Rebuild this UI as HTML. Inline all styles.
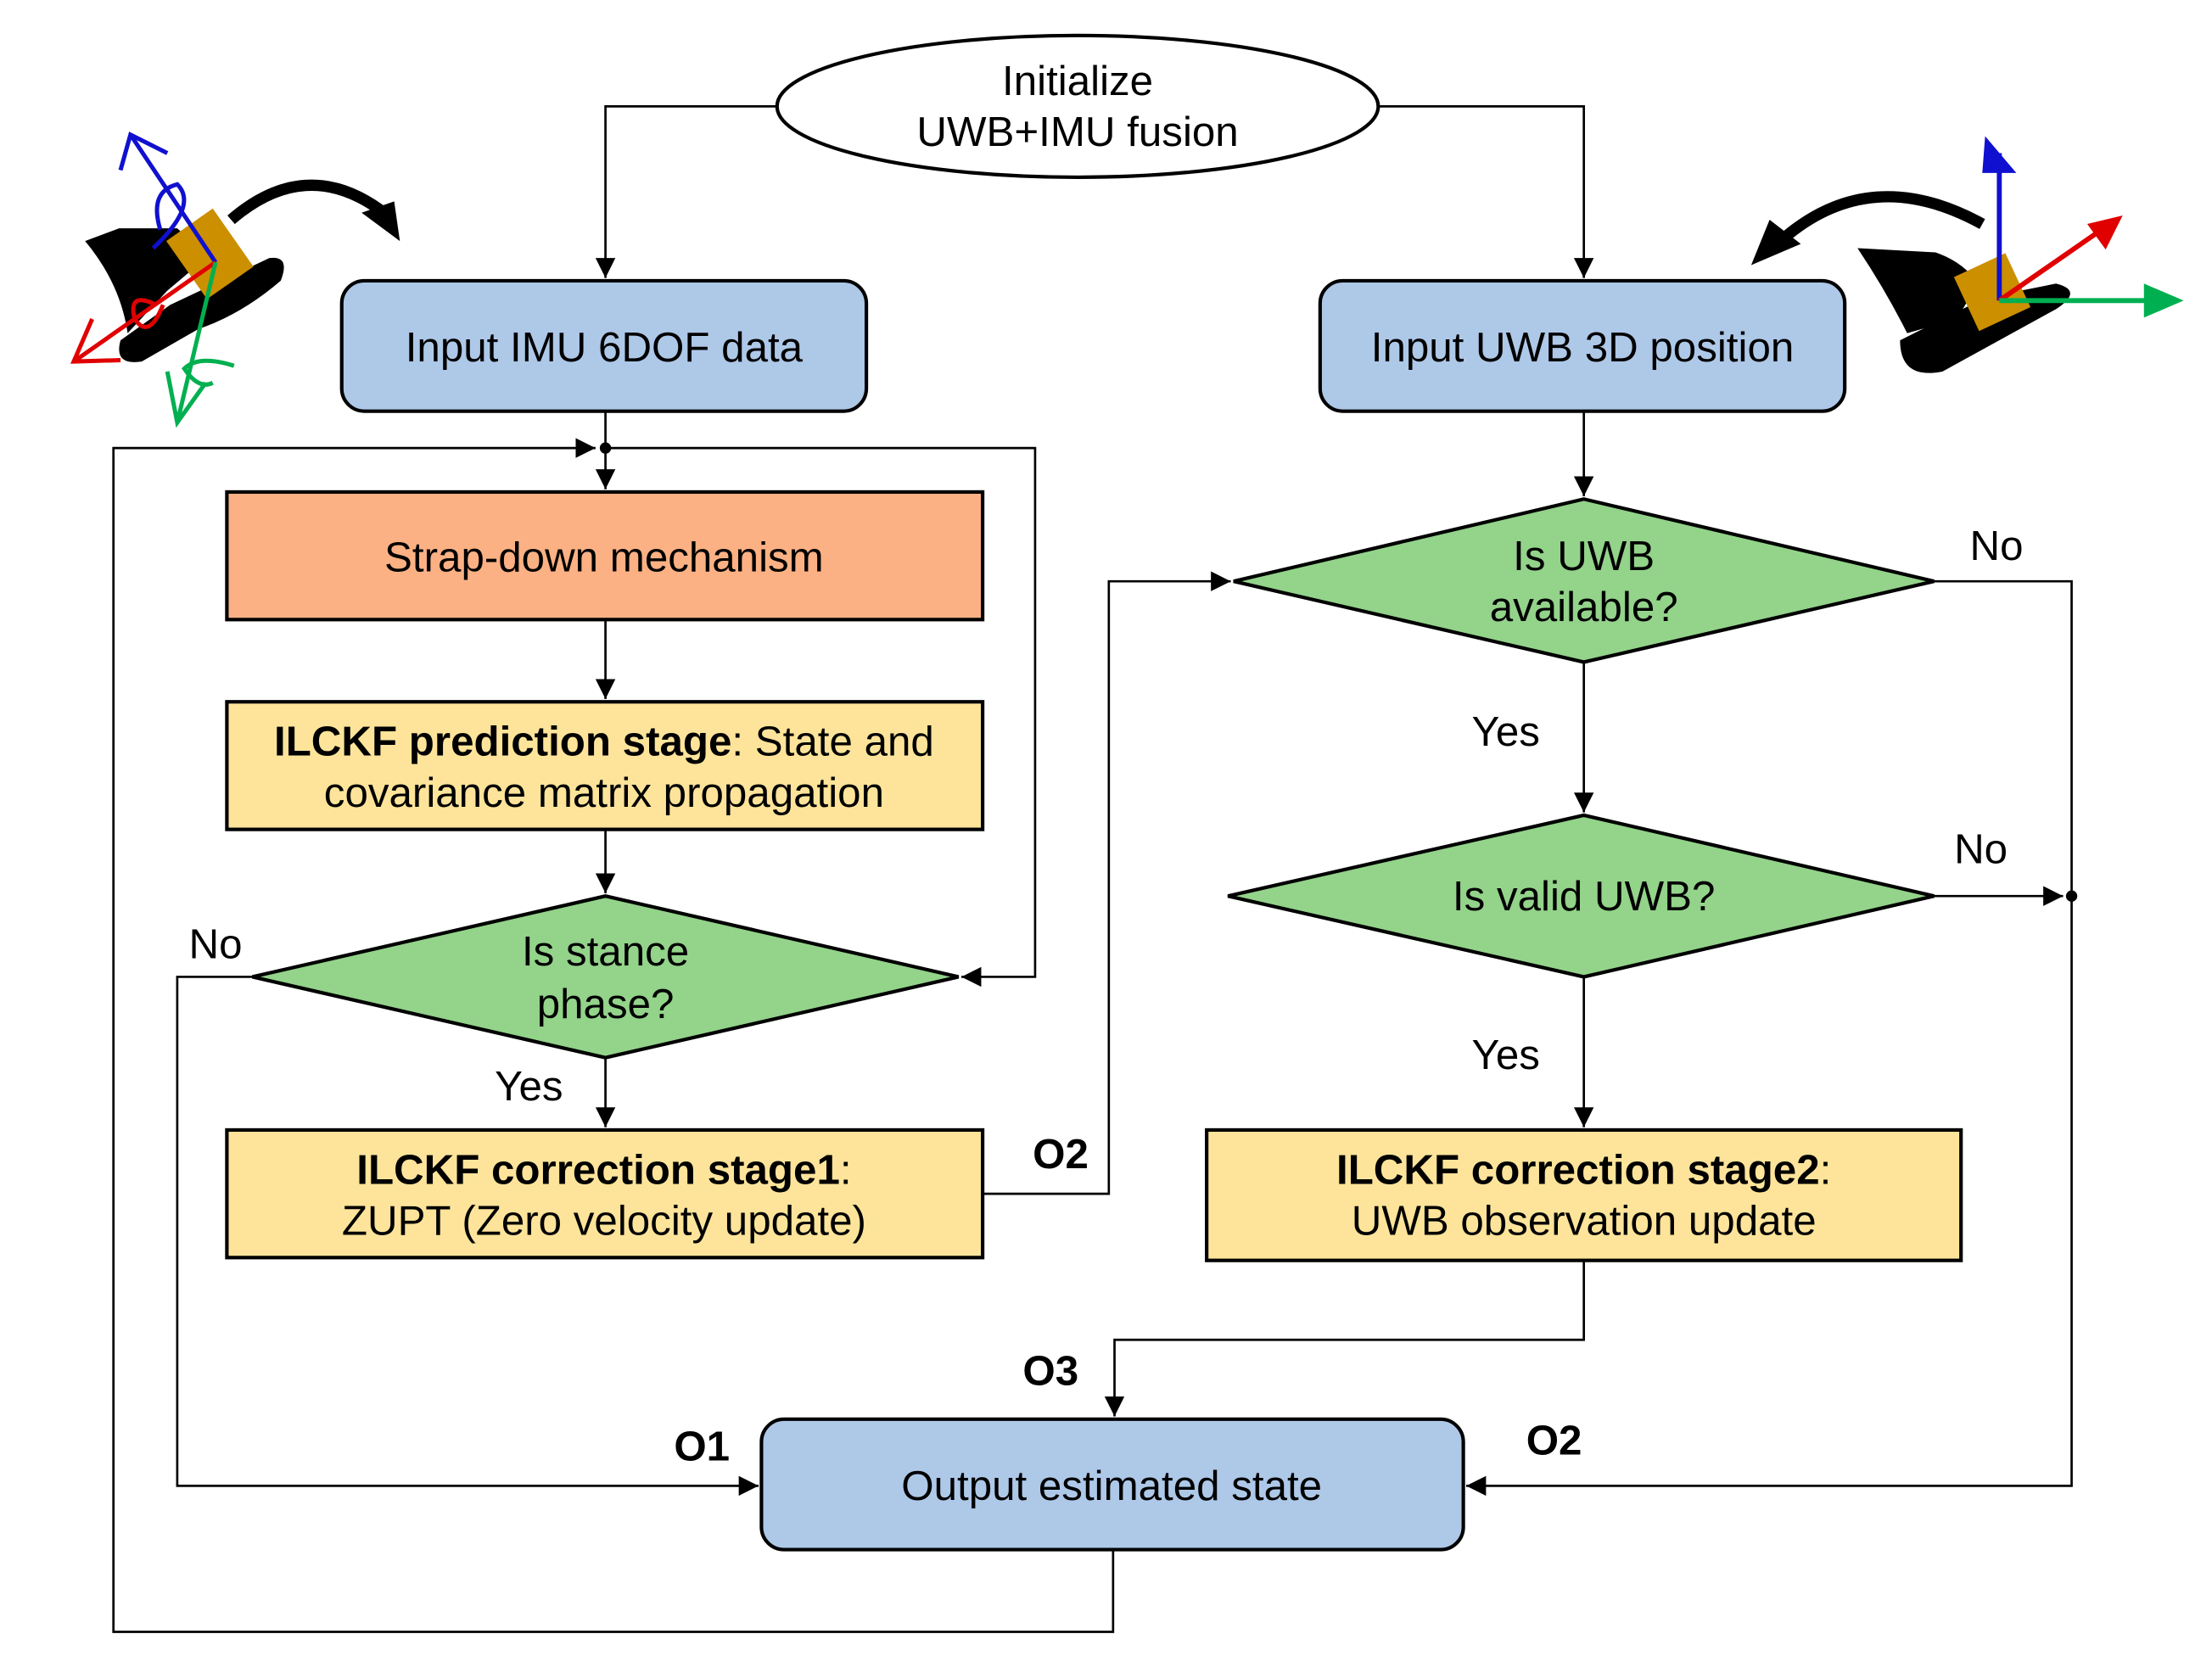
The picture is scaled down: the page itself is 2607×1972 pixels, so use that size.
<!DOCTYPE html>
<html><head><meta charset="utf-8"><style>html,body{margin:0;padding:0;background:#fff}svg{display:block}</style></head>
<body>
<svg width="2607" height="1972" viewBox="0 0 1560 1180" xmlns="http://www.w3.org/2000/svg" font-family="Liberation Sans, Arial, sans-serif" font-size="29.5">
<defs>
<marker id="b" viewBox="0 0 10 10" markerWidth="16" markerHeight="14" refX="10" refY="5" orient="auto" markerUnits="userSpaceOnUse"><path d="M0,0 L10,5 L0,10 z" fill="#000"/></marker>
</defs>
<g stroke="#000" stroke-width="1.6" fill="none">
<polyline points="548,75 427,75 427,196" marker-end="url(#b)"/>
<polyline points="972,75 1117,75 1117,196" marker-end="url(#b)"/>
<line x1="427" y1="290" x2="427" y2="345" marker-end="url(#b)"/>
<polyline points="785,1093 785,1151 80,1151 80,316 420,316" marker-end="url(#b)"/>
<polyline points="427,316 730,316 730,689 678,689" marker-end="url(#b)"/>
<line x1="427" y1="437" x2="427" y2="493" marker-end="url(#b)"/>
<line x1="427" y1="585" x2="427" y2="630" marker-end="url(#b)"/>
<polyline points="178,689 125,689 125,1048 535,1048" marker-end="url(#b)"/>
<line x1="427" y1="746" x2="427" y2="795" marker-end="url(#b)"/>
<polyline points="693,842 782,842 782,410 868,410" marker-end="url(#b)"/>
<line x1="1117" y1="290" x2="1117" y2="350" marker-end="url(#b)"/>
<polyline points="1364,410 1461,410 1461,1048 1034,1048" marker-end="url(#b)"/>
<line x1="1117" y1="467" x2="1117" y2="573" marker-end="url(#b)"/>
<line x1="1364" y1="632" x2="1455" y2="632" marker-end="url(#b)"/>
<line x1="1117" y1="689" x2="1117" y2="795" marker-end="url(#b)"/>
<polyline points="1117,889 1117,945 786,945 786,999" marker-end="url(#b)"/>
</g>
<circle cx="427" cy="316" r="4"/>
<circle cx="1461" cy="632" r="4"/>
<g stroke="#000" stroke-width="2.5">
<ellipse cx="760" cy="75" rx="212" ry="50" fill="#fff"/>
<rect x="241" y="198" width="370" height="92" rx="16" fill="#aec8e8"/>
<rect x="931" y="198" width="370" height="92" rx="16" fill="#aec8e8"/>
<rect x="160" y="347" width="533" height="90" fill="#fbb183"/>
<rect x="160" y="495" width="533" height="90" fill="#fde49a"/>
<polygon points="178,689 427,632 676,689 427,746" fill="#93d38a"/>
<rect x="160" y="797" width="533" height="90" fill="#fde49a"/>
<polygon points="870,410 1117,352 1364,410 1117,467" fill="#93d38a"/>
<polygon points="866,632 1117,575 1364,632 1117,689" fill="#93d38a"/>
<rect x="851" y="797" width="532" height="92" fill="#fde49a"/>
<rect x="537" y="1001" width="495" height="92" rx="16" fill="#aec8e8"/>
</g>
<g text-anchor="middle" fill="#000">
<text x="760" y="67">Initialize</text>
<text x="760" y="103">UWB+IMU fusion</text>
<text x="426" y="255">Input IMU 6DOF data</text>
<text x="1116" y="255">Input UWB 3D position</text>
<text x="426" y="403">Strap-down mechanism</text>
<text x="426" y="533"><tspan font-weight="bold">ILCKF prediction stage</tspan>: State and</text>
<text x="426" y="569">covariance matrix propagation</text>
<text x="427" y="681">Is stance</text>
<text x="427" y="718">phase?</text>
<text x="426" y="835"><tspan font-weight="bold">ILCKF correction stage1</tspan>:</text>
<text x="426" y="871">ZUPT (Zero velocity update)</text>
<text x="1117" y="402">Is UWB</text>
<text x="1117" y="438">available?</text>
<text x="1117" y="642">Is valid UWB?</text>
<text x="1117" y="835"><tspan font-weight="bold">ILCKF correction stage2</tspan>:</text>
<text x="1117" y="871">UWB observation update</text>
<text x="784" y="1058">Output estimated state</text>
<text x="152" y="676">No</text>
<text x="373" y="776">Yes</text>
<text x="1408" y="395">No</text>
<text x="1062" y="526">Yes</text>
<text x="1397" y="609">No</text>
<text x="1062" y="754">Yes</text>
<text x="748" y="824" font-weight="bold">O2</text>
<text x="741" y="977" font-weight="bold">O3</text>
<text x="495" y="1030" font-weight="bold">O1</text>
<text x="1096" y="1026" font-weight="bold">O2</text>
</g>
<!-- left shoe -->
<g>
<path d="M84,161 L125,161 Q140,175 150,178 L118,205 L90,235 Q85,200 60,170 Z" fill="#000"/>
<path d="M85,240 L120,215 L190,182 Q205,180 198,198 Q170,222 140,232 L100,255 Q80,258 85,240 Z" fill="#000"/>
<rect x="128" y="154" width="40" height="50" fill="#cc8f00" transform="rotate(-35 148 179)"/>
<g fill="none" stroke-width="3">
<path d="M152,185 L92,95 M85,120 L92,95 L118,108" stroke="#1010d0"/>
<path d="M108,175 Q140,145 125,130 Q105,135 113,162" stroke="#1010d0"/>
<path d="M152,185 L52,255 M85,254 L52,255 L65,225" stroke="#e00000"/>
<path d="M110,215 Q90,205 95,225 Q105,240 115,215" stroke="#e00000"/>
<path d="M152,185 L125,298 M118,262 L125,298 L145,270" stroke="#00b050"/>
<path d="M165,258 Q140,250 130,260 Q140,275 150,270" stroke="#00b050"/>
</g>
<path d="M163,155 Q215,110 268,148" fill="none" stroke="#000" stroke-width="8"/>
<path d="M255,150 L282,170 L278,142 Z" fill="#000"/>
</g>
<!-- right shoe -->
<g>
<path d="M1310,175 L1365,178 Q1385,185 1395,200 L1380,225 L1345,235 Q1330,205 1310,175 Z" fill="#000"/>
<path d="M1340,240 L1400,210 L1450,200 Q1470,205 1450,218 L1370,262 Q1340,268 1340,240 Z" fill="#000"/>
<rect x="1385" y="185" width="40" height="42" fill="#cc8f00" transform="rotate(-25 1405 206)"/>
<g fill="none" stroke-width="3.5">
<path d="M1410,212 L1410,108" stroke="#1010d0"/>
<path d="M1410,212 L1485,160" stroke="#e00000"/>
<path d="M1410,212 L1520,212" stroke="#00b050"/>
</g>
<path d="M1400,96 L1422,122 L1398,122 Z" fill="#1010d0"/>
<path d="M1497,152 L1485,176 L1472,158 Z" fill="#e00000"/>
<path d="M1540,212 L1512,200 L1512,224 Z" fill="#00b050"/>
<path d="M1398,158 Q1320,115 1258,168" fill="none" stroke="#000" stroke-width="8"/>
<path d="M1235,187 L1248,155 L1270,172 Z" fill="#000"/>
</g>
</svg>
</body></html>
